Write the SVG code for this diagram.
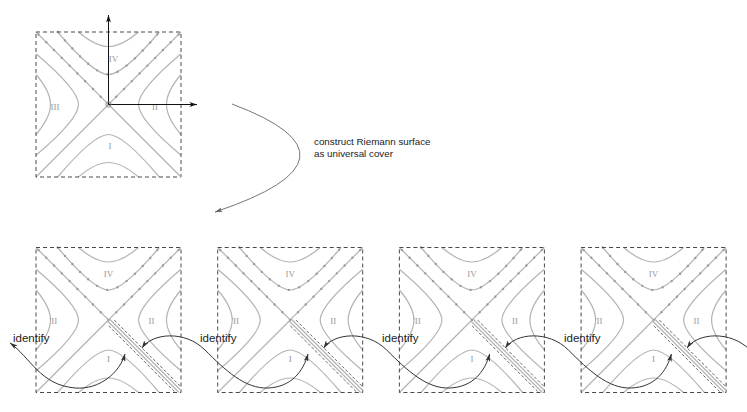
<svg xmlns="http://www.w3.org/2000/svg" xmlns:xlink="http://www.w3.org/1999/xlink" width="747" height="412" viewBox="0 0 747 412">
<style>
.box{fill:none;stroke:#4a4a4a;stroke-width:1;stroke-dasharray:4 3}
.hy{fill:none;stroke:#b4b4b4;stroke-width:1.2}
.dot{fill:none;stroke:#9c9c9c;stroke-width:2.4;stroke-linecap:round;stroke-dasharray:0 11}
.cut{fill:none;stroke:#555;stroke-width:0.9;stroke-dasharray:3 2}
.lab{font-family:"Liberation Serif",serif;font-size:9px;fill:#9a9a9a;text-anchor:middle}
.con{fill:none;stroke:#333;stroke-width:1}
.axis{fill:none;stroke:#111;stroke-width:1}
.txt{font-family:"Liberation Sans",Arial,sans-serif;fill:#222}
</style>
<defs>
  <marker id="ah" viewBox="0 0 10 6" refX="9.5" refY="3" markerWidth="8" markerHeight="4.8" markerUnits="userSpaceOnUse" orient="auto-start-reverse">
    <path d="M0,0 L10,3 L0,6 L2.5,3 z" fill="#333"/>
  </marker>
  <marker id="ahg" viewBox="0 0 10 6" refX="9.5" refY="3" markerWidth="8" markerHeight="4.8" markerUnits="userSpaceOnUse" orient="auto">
    <path d="M0,0 L10,3 L0,6 L2.5,3 z" fill="#666"/>
  </marker>
  <marker id="axh" viewBox="0 0 10 6" refX="9.5" refY="3" markerWidth="8" markerHeight="4.8" markerUnits="userSpaceOnUse" orient="auto">
    <path d="M0,0 L10,3 L0,6 L2.5,3 z" fill="#111"/>
  </marker>
  <g id="hIV">
    <path d="M-50.8,-72.5 Q-14.9,-30 0,-30 Q14.9,-30 50.8,-72.5"/>
    <path d="M-30,-72.5 Q-13,-58 0,-58 Q13,-58 30,-72.5"/>
  </g>
  <g id="base">
    <g class="hy">
      <use xlink:href="#hIV"/>
      <use xlink:href="#hIV" transform="rotate(90)"/>
      <use xlink:href="#hIV" transform="rotate(180)"/>
      <use xlink:href="#hIV" transform="rotate(270)"/>
      <path d="M-72.5,-72.5 L0,0 L72.5,-72.5 M0,0 L-72.5,72.5"/>
    </g>
    <g class="dot">
      <path d="M0,0 L-72.5,-72.5 M0,0 L72.5,-72.5"/>
      <path d="M-50.8,-72.5 Q-14.9,-30 0,-30 Q14.9,-30 50.8,-72.5"/>
    </g>
    <rect class="box" x="-72.5" y="-72.5" width="145" height="145"/>
  </g>
  <g id="cutg">
    <path class="hy" d="M1,-1 L72.5,70.5 M-1,1 L70.5,72.5"/>
    <path class="cut" d="M5.83,0.17 L72.5,66.84 M0.17,5.83 L66.84,72.5"/>
  </g>
  <g id="blabels">
    <text class="lab" x="0" y="-42.6">IV</text>
    <text class="lab" x="-55" y="4">'II</text>
    <text class="lab" x="43" y="4">II</text>
    <text class="lab" x="0" y="42.4">I</text>
  </g>
</defs>

<g id="top-sheet" transform="translate(108.5,104.5)">
  <use xlink:href="#base"/>
  <path class="hy" d="M0,0 L72.5,72.5"/>
  <text class="lab" x="5" y="-43">IV</text>
  <text class="lab" x="-53.5" y="5">III</text>
  <text class="lab" x="46.5" y="5">II</text>
  <text class="lab" x="1.5" y="44">I</text>
  <line class="axis" x1="0" y1="0" x2="0" y2="-89.5" marker-end="url(#axh)"/>
  <line class="axis" x1="0" y1="0" x2="88.5" y2="0" marker-end="url(#axh)"/>
  <circle r="2.7" fill="none" stroke="#888" stroke-width="1"/>
</g>

<g id="sheet-1" transform="translate(108.5,320)">
  <use xlink:href="#base"/><use xlink:href="#cutg"/><use xlink:href="#blabels"/>
</g>
<g id="sheet-2" transform="translate(290.2,320)">
  <use xlink:href="#base"/><use xlink:href="#cutg"/><use xlink:href="#blabels"/>
</g>
<g id="sheet-3" transform="translate(471.9,320)">
  <use xlink:href="#base"/><use xlink:href="#cutg"/><use xlink:href="#blabels"/>
</g>
<g id="sheet-4" transform="translate(653.6,320)">
  <use xlink:href="#base"/><use xlink:href="#cutg"/><use xlink:href="#blabels"/>
</g>

<g id="caption">
  <text class="txt" x="314" y="145" font-size="9.8">construct Riemann surface</text>
  <text class="txt" x="314" y="157" font-size="9.8">as universal cover</text>
</g>

<g id="connectors">
  <path fill="none" stroke="#666" stroke-width="0.9" d="M232,104 Q376,158 215,212" marker-end="url(#ahg)"/>
  <path class="con" d="M10,343 C30,357 40,385 75,388 C100,390 120,372 125,354" marker-start="url(#ah)" marker-end="url(#ah)"/>
  <path class="con" d="M142,348 C152,333 185,330 205,350 C225,370 245,389 268,388 C291,387 303,372 308,354" marker-start="url(#ah)" marker-end="url(#ah)"/>
  <path class="con" transform="translate(181.7,0)" d="M142,348 C152,333 185,330 205,350 C225,370 245,389 268,388 C291,387 303,372 308,354" marker-start="url(#ah)" marker-end="url(#ah)"/>
  <path class="con" transform="translate(363.4,0)" d="M142,348 C152,333 185,330 205,350 C225,370 245,389 268,388 C291,387 303,372 308,354" marker-start="url(#ah)" marker-end="url(#ah)"/>
  <path class="con" d="M687.1,348 C697.1,333 730.1,330 750.1,350" marker-start="url(#ah)"/>
  <text class="txt" x="13" y="342" font-size="11.5">identify</text>
  <text class="txt" x="200" y="342" font-size="11.5">identify</text>
  <text class="txt" x="382" y="342" font-size="11.5">identify</text>
  <text class="txt" x="564" y="342" font-size="11.5">identify</text>
</g>
</svg>
